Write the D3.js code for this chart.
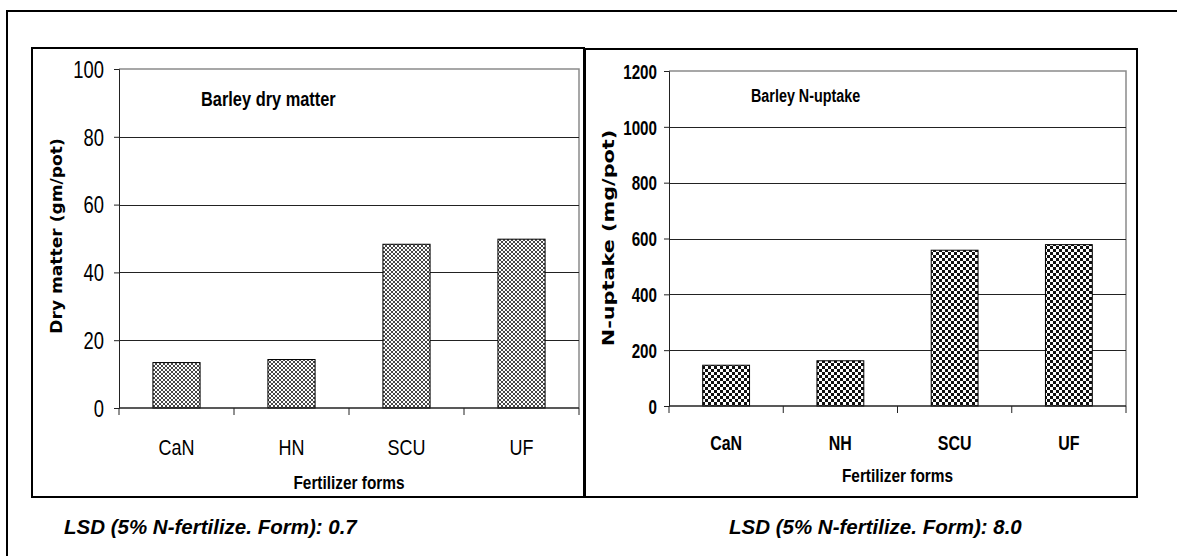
<!DOCTYPE html>
<html lang="en">
<head>
<meta charset="utf-8"/>
<title>Barley dry matter and N-uptake</title>
<script src="https://cdn.jsdelivr.net/npm/d3@7"></script>
<style>
  body { margin: 0; background: #fff; }
  svg { display: block; }
  .narrow { font-family: "Liberation Sans Narrow", "Arial Narrow", "Liberation Sans", Arial, sans-serif; }
  .lsd { font-family: "Liberation Sans", Arial, sans-serif; font-weight: bold; font-style: italic; font-size: 20.5px; }
</style>
</head>
<body>
<svg id="fig" width="1177" height="556"></svg>
<script>
// data
const formsLeft = ['CaN', 'HN', 'SCU', 'UF']
const dryMatter = [13.4, 14.3, 48.3, 49.8]
const dryTicks = [0, 20, 40, 60, 80, 100]

const formsRight = ['CaN', 'NH', 'SCU', 'UF']
const nUptake = [146, 162, 558, 578]
const nTicks = [0, 200, 400, 600, 800, 1000, 1200]

const svg = d3.select('#fig')

// no narrow font in the box, so squeeze the normal one
function squeeze(sel, x, y, sx) {
  sel.attr('x', 0).attr('y', 0)
    .attr('transform', `translate(${x},${y}) scale(${sx},1)`)
  return sel
}

// patterns for the bars
const defs = svg.append('defs')
const hatch = defs.append('pattern')
  .attr('id', 'hatch').attr('patternUnits', 'userSpaceOnUse')
  .attr('width', 4).attr('height', 4)
hatch.append('rect').attr('width', 4).attr('height', 4).attr('fill', '#fff')
hatch.append('path').attr('d', 'M0,0L4,4M4,0L0,4M-1,3L1,5M3,-1L5,1M-1,1L1,-1M3,5L5,3').attr('stroke', '#333').attr('stroke-width', 0.9)

const checker = defs.append('pattern')
  .attr('id', 'checker').attr('patternUnits', 'userSpaceOnUse')
  .attr('width', 6).attr('height', 6)
checker.append('rect').attr('width', 6).attr('height', 6).attr('fill', '#fff')
checker.append('rect').attr('width', 3).attr('height', 3).attr('fill', '#111')
checker.append('rect').attr('x', 3).attr('y', 3).attr('width', 3).attr('height', 3).attr('fill', '#111')

// outer frame (runs off the right and bottom of the picture)
svg.append('rect')
  .attr('x', 7).attr('y', 11).attr('width', 1200).attr('height', 600)
  .attr('fill', 'none').attr('stroke', '#000').attr('stroke-width', 2)

function panel(o) {
  const g = svg.append('g')

  g.append('rect')
    .attr('x', o.box[0]).attr('y', o.box[1])
    .attr('width', o.box[2] - o.box[0]).attr('height', o.box[3] - o.box[1])
    .attr('fill', '#fff').attr('stroke', '#000').attr('stroke-width', 2)

  const x = d3.scaleBand().domain(o.cats).range([o.plot[0], o.plot[2]]).paddingInner(0.59).paddingOuter(0.295)
  const xb = d3.scaleBand().domain(o.cats).range([o.plot[0], o.plot[2]])
  const y = d3.scaleLinear().domain([0, o.ticks[o.ticks.length - 1]]).range([o.plot[3], o.plot[1]])

  // plot area border (top/right in grey)
  g.append('path')
    .attr('d', `M${o.plot[0]},${o.plot[1]}H${o.plot[2]}V${o.plot[3]}`)
    .attr('fill', 'none').attr('stroke', '#8a8a8a').attr('stroke-width', 1.5)

  // gridlines
  g.append('g').selectAll('line')
    .data(o.ticks.slice(1, -1))
    .enter().append('line')
    .attr('x1', o.plot[0]).attr('x2', o.plot[2])
    .attr('y1', d => Math.round(y(d)) + 0.5).attr('y2', d => Math.round(y(d)) + 0.5)
    .attr('stroke', '#222')

  // y axis
  const ya = g.append('g')
    .attr('transform', `translate(${o.plot[0]},0)`)
    .call(d3.axisLeft(y).tickValues(o.ticks).tickFormat(d3.format('d')).tickSize(5))
  ya.select('.domain').attr('stroke', '#222')
  ya.selectAll('line').attr('stroke', '#222')
  ya.selectAll('text')
    .attr('class', 'narrow')
    .attr('dy', '0.36em')
    .attr('font-size', o.tickSize).attr('font-weight', o.tickWeight).attr('fill', '#000')
    .each(function () { squeeze(d3.select(this), -o.tickGap, 0, o.sx) })

  // bars
  g.append('g').selectAll('rect')
    .data(o.values)
    .enter().append('rect')
    .attr('x', (d, i) => x(o.cats[i]))
    .attr('y', d => y(d))
    .attr('width', x.bandwidth())
    .attr('height', d => y(0) - y(d))
    .attr('fill', `url(#${o.pattern})`)
    .attr('stroke', '#000').attr('stroke-width', 1)

  // x axis with ticks at band edges
  g.append('line')
    .attr('x1', o.plot[0]).attr('x2', o.plot[2])
    .attr('y1', y(0)).attr('y2', y(0))
    .attr('stroke', '#222').attr('stroke-width', 1.5)
  g.append('g').selectAll('line')
    .data(o.cats.concat(['end']))
    .enter().append('line')
    .attr('x1', (d, i) => i < o.cats.length ? xb(d) : o.plot[2])
    .attr('x2', (d, i) => i < o.cats.length ? xb(d) : o.plot[2])
    .attr('y1', y(0)).attr('y2', y(0) + 7)
    .attr('stroke', '#222')

  g.append('g').selectAll('text')
    .data(o.cats)
    .enter().append('text')
    .attr('class', 'narrow')
    .attr('text-anchor', 'middle')
    .attr('font-size', o.catSize).attr('font-weight', o.tickWeight)
    .text(d => d)
    .each(function (d) { squeeze(d3.select(this), xb(d) + xb.bandwidth() / 2, o.catY, o.sx) })

  squeeze(g.append('text')
    .attr('class', 'narrow')
    .attr('text-anchor', 'middle').attr('font-size', 17.5).attr('font-weight', 'bold')
    .text('Fertilizer forms'), (o.plot[0] + o.plot[2]) / 2, o.xLabelY, 0.88)

  // y title: wide bold face, stretched along its length
  g.append('text')
    .attr('transform', `translate(${o.yLabel[0]},${o.yLabel[1]}) rotate(-90) scale(${o.yLabelStretch},1)`)
    .attr('text-anchor', 'middle')
    .attr('font-family', '"DejaVu Sans", Verdana, sans-serif')
    .attr('font-size', o.yLabelSize).attr('font-weight', 'bold')
    .text(o.yTitle)

  squeeze(g.append('text')
    .attr('class', 'narrow')
    .attr('font-size', o.titleSize).attr('font-weight', 'bold')
    .text(o.titleText), o.title[0], o.title[1], 0.82)

  svg.append('text')
    .attr('class', 'lsd')
    .attr('x', o.lsd[0]).attr('y', o.lsd[1])
    .text(o.lsdText)
}

panel({
  box: [32, 48, 584, 497],
  plot: [119, 69, 579, 408],
  cats: formsLeft, values: dryMatter, ticks: dryTicks,
  pattern: 'hatch', sx: 0.8,
  tickSize: 23, tickWeight: 'normal', tickGap: 15, catSize: 22.5, catY: 455,
  xLabelY: 489,
  yLabel: [62, 236], yLabelSize: 15, yLabelStretch: 1.14, yTitle: 'Dry matter  (gm/pot)',
  title: [201, 106], titleSize: 20, titleText: 'Barley dry matter',
  lsd: [64, 534], lsdText: 'LSD (5% N-fertilize. Form): 0.7'
})

panel({
  box: [585, 49, 1137, 497],
  plot: [669, 71, 1126, 406],
  cats: formsRight, values: nUptake, ticks: nTicks,
  pattern: 'checker', sx: 0.76,
  tickSize: 20, tickWeight: 'bold', tickGap: 12, catSize: 21, catY: 450,
  xLabelY: 482,
  yLabel: [614, 238], yLabelSize: 16, yLabelStretch: 1.3, yTitle: 'N-uptake  (mg/pot)',
  title: [751, 102], titleSize: 17.5, titleText: 'Barley N-uptake',
  lsd: [729, 534], lsdText: 'LSD (5% N-fertilize. Form): 8.0'
})
</script>
</body>
</html>
